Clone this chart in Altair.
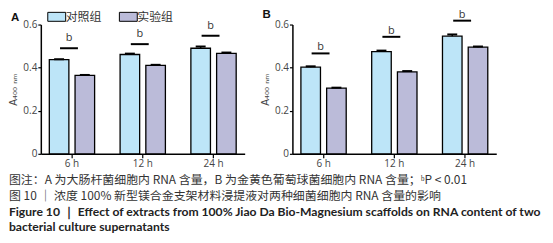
import altair as alt
import pandas as pd

times = ["6 h", "12 h", "24 h"]
groups = ["对照组", "实验组"]
a_ctrl = [0.437, 0.461, 0.490]
a_exp = [0.364, 0.410, 0.466]
a_ctrl_err = [0.002, 0.004, 0.008]
a_exp_err = [0.002, 0.003, 0.004]
b_ctrl = [0.402, 0.474, 0.546]
b_exp = [0.305, 0.380, 0.495]
b_ctrl_err = [0.004, 0.005, 0.008]
b_exp_err = [0.002, 0.004, 0.003]
a_sig = [0.490, 0.509, 0.548]
b_sig = [0.466, 0.543, 0.618]
sig_label = "b"

cap1 = "图注：A 为大肠杆菌细胞内 RNA 含量，B 为金黄色葡萄球菌细胞内 RNA 含量；ᵇP < 0.01"
cap2 = "图 10 ｜ 浓度 100% 新型镁合金支架材料浸提液对两种细菌细胞内 RNA 含量的影响"
cap3 = "Figure 10 ｜  Effect of extracts from 100% Jiao Da Bio-Magnesium scaffolds on RNA content of two"
cap4 = "bacterial culture supernatants"

COLORS = ["#bde5f8", "#bbbbd9"]
FONT = "Open Sans"
CJK = "Noto Sans CJK SC"


def panel(letter, ctrl, exp, ctrl_err, exp_err, sig, show_legend, bdy, ly):
    rows = []
    for i, t in enumerate(times):
        rows.append({"time": t, "group": groups[0], "v": ctrl[i], "hi": ctrl[i] + ctrl_err[i]})
        rows.append({"time": t, "group": groups[1], "v": exp[i], "hi": exp[i] + exp_err[i]})
    df = pd.DataFrame(rows)
    sdf = pd.DataFrame({"time": times, "s": sig, "lab": [sig_label] * 3})

    xenc = alt.X("time:N", sort=times,
                 scale=alt.Scale(paddingInner=0.36, paddingOuter=0.12),
                 axis=alt.Axis(title=None, labelAngle=0, labelFont=FONT, labelFontSize=10,
                               labelColor="#444", domainColor="#000", domainWidth=1.5,
                               tickColor="#000", tickSize=4, tickWidth=1.2, labelPadding=1))
    yscale = alt.Scale(domain=[0, 0.6], nice=False)
    yaxis = alt.Axis(title="A₄₀₀ ₙₘ", values=[0, 0.2, 0.4, 0.6],
                     labelExpr="datum.value == 0 ? '0' : format(datum.value, '.1f')",
                     labelFont=FONT, labelFontSize=10, labelColor="#444",
                     titleFont="DejaVu Sans", titleFontSize=10, titleFontWeight="normal",
                     titleColor="#444", titlePadding=4,
                     domainColor="#000", domainWidth=1.5, tickColor="#000", tickSize=3,
                     tickWidth=1.2, grid=False, labelPadding=1)
    xoff = alt.XOffset("group:N", sort=groups, scale=alt.Scale(paddingInner=0.24))

    if show_legend:
        legend = alt.Legend(title=None, orient="none", legendX=10, legendY=-14,
                            direction="horizontal", labelFont=CJK, labelFontSize=12,
                            labelColor="#333", symbolType="M-2,-1H2V1H-2Z", symbolSize=81,
                            symbolStrokeColor="#000", symbolStrokeWidth=1,
                            symbolOpacity=1, columnPadding=15, labelOffset=3, padding=0)
    else:
        legend = None

    bars = alt.Chart(df).mark_bar(stroke="#000", strokeWidth=1.3, opacity=1).encode(
        x=xenc,
        xOffset=xoff,
        y=alt.Y("v:Q", scale=yscale, axis=yaxis),
        color=alt.Color("group:N", sort=groups, scale=alt.Scale(domain=groups, range=COLORS),
                        legend=legend),
    )
    err = alt.Chart(df).mark_rule(color="#000", strokeWidth=1.5, opacity=1).encode(
        x=alt.X("time:N", sort=times), xOffset=xoff, y="v:Q", y2="hi:Q")
    cap = alt.Chart(df).mark_tick(color="#000", thickness=2, size=10, opacity=1).encode(
        x=alt.X("time:N", sort=times), xOffset=xoff, y="hi:Q")
    sigline = alt.Chart(sdf).mark_tick(color="#000", thickness=2, size=18, xOffset=-3,
                                       opacity=1, clip=False).encode(
        x=alt.X("time:N", sort=times), y="s:Q")
    sigtxt = alt.Chart(sdf).mark_text(font=FONT, fontSize=11, color="#333", dy=bdy, dx=-3,
                                      opacity=1, clip=False).encode(
        x=alt.X("time:N", sort=times), y="s:Q", text="lab:N")
    lettr = alt.Chart(pd.DataFrame({"t": [letter]})).mark_text(
        font="Liberation Sans", fontSize=11.5, fontWeight="bold", color="#111",
        align="left", baseline="middle").encode(
        x=alt.value(-30), y=alt.value(ly), text="t:N")

    return alt.layer(bars, err, cap, sigline, sigtxt, lettr).properties(width=205, height=130)


pa = panel("A", a_ctrl, a_exp, a_ctrl_err, a_exp_err, a_sig, True, -10, -7)
pb = panel("B", b_ctrl, b_exp, b_ctrl_err, b_exp_err, b_sig, False, -6, -10)

chart = alt.hconcat(pa, pb, spacing=15).resolve_scale(color="independent").properties(
    padding={"left": 0, "top": 0, "right": 0, "bottom": 0},
    title=alt.TitleParams(
        text=[cap1, cap2], subtitle=[cap3, cap4], orient="bottom", anchor="start",
        frame="bounds", font=CJK, fontSize=12, fontWeight="normal", color="#333",
        lineHeight=16.5, subtitleFont="Lato", subtitleFontSize=12.2,
        subtitleFontWeight="bold", subtitleColor="#222", subtitleLineHeight=15,
        subtitlePadding=3, offset=6),
).configure_view(stroke=None)

chart.save("out.html", embed_options={"renderer": "svg", "actions": False})
